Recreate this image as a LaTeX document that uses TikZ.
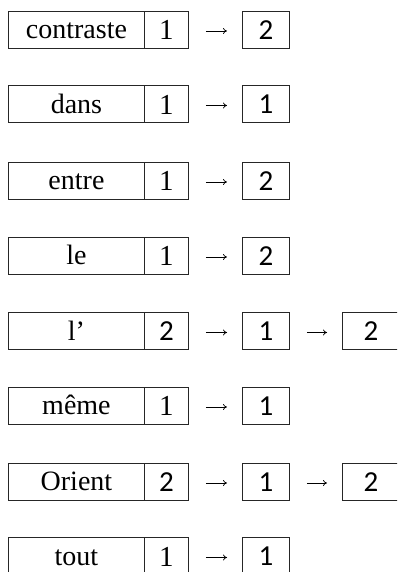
\documentclass[tikz,border=0pt]{standalone}
\usepackage{fontspec}
\setmainfont{Liberation Serif}
\newfontfamily\digitsans{Carlito}
\usetikzlibrary{arrows.meta}
\begin{document}
\begin{tikzpicture}[x=1pt,y=1pt,
  cell/.style={draw=black!85, line width=0.9pt, minimum height=37pt,
               inner sep=0pt, text depth=0pt, anchor=west},
  wordcell/.style={cell, minimum width=136pt, text height=19pt,
                   font=\fontsize{28}{30}\selectfont},
  numcell/.style={cell, minimum width=44pt, text height=21pt,
                  font=\fontsize{29}{30}\selectfont},
  numsans/.style={cell, minimum width=44pt, text height=19.6pt,
                  font=\digitsans\fontsize{29}{30}\selectfont},
  idxcell/.style={cell, minimum width=47pt, text height=19.6pt,
                  font=\digitsans\fontsize{29}{30}\selectfont},
  lastcell/.style={idxcell, minimum width=57pt},
  flow/.style={-{To[length=4pt,width=6pt]}, line width=0.7pt,
               shorten <=17pt, shorten >=15pt}
]
\useasboundingbox (0,0) rectangle (397,572);
\clip (0,0) rectangle (397,572);

% contraste
\node[wordcell] (w1) at (8,542.5) {contraste};
\node[numcell]  (n1) at (144,542.5) {1};
\node[idxcell]  (a1) at (242,542.5) {2};
\draw[flow] ([yshift=-1.5pt]n1.east) -- ([yshift=-1.5pt]a1.west);

% dans
\node[wordcell] (w2) at (8,468) {dans};
\node[numcell]  (n2) at (144,468) {1};
\node[idxcell]  (a2) at (242,468) {1};
\draw[flow] ([yshift=-1.5pt]n2.east) -- ([yshift=-1.5pt]a2.west);

% entre
\node[wordcell] (w3) at (8,391.5) {entre};
\node[numcell]  (n3) at (144,391.5) {1};
\node[idxcell]  (a3) at (242,391.5) {2};
\draw[flow] ([yshift=-1.5pt]n3.east) -- ([yshift=-1.5pt]a3.west);

% le
\node[wordcell] (w4) at (8,316.5) {le};
\node[numcell]  (n4) at (144,316.5) {1};
\node[idxcell]  (a4) at (242,316.5) {2};
\draw[flow] ([yshift=-1.5pt]n4.east) -- ([yshift=-1.5pt]a4.west);

% l'
\node[wordcell] (w5) at (8,241) {l’};
\node[numsans]  (n5) at (144,241) {2};
\node[idxcell]  (a5) at (242,241) {1};
\node[lastcell] (b5) at (342,241) {2};
\draw[flow] ([yshift=-1.5pt]n5.east) -- ([yshift=-1.5pt]a5.west);
\draw[flow] ([yshift=-1.5pt]a5.east) -- ([yshift=-1.5pt]b5.west);

% même
\node[wordcell] (w6) at (8,166.5) {même};
\node[numcell]  (n6) at (144,166.5) {1};
\node[idxcell]  (a6) at (242,166.5) {1};
\draw[flow] ([yshift=-1.5pt]n6.east) -- ([yshift=-1.5pt]a6.west);

% Orient
\node[wordcell] (w7) at (8,90.5) {Orient};
\node[numsans]  (n7) at (144,90.5) {2};
\node[idxcell]  (a7) at (242,90.5) {1};
\node[lastcell] (b7) at (342,90.5) {2};
\draw[flow] ([yshift=-1.5pt]n7.east) -- ([yshift=-1.5pt]a7.west);
\draw[flow] ([yshift=-1.5pt]a7.east) -- ([yshift=-1.5pt]b7.west);

% tout
\node[wordcell] (w8) at (8,16) {tout};
\node[numcell]  (n8) at (144,16) {1};
\node[idxcell]  (a8) at (242,16) {1};
\draw[flow] ([yshift=-1.5pt]n8.east) -- ([yshift=-1.5pt]a8.west);
\end{tikzpicture}
\end{document}
